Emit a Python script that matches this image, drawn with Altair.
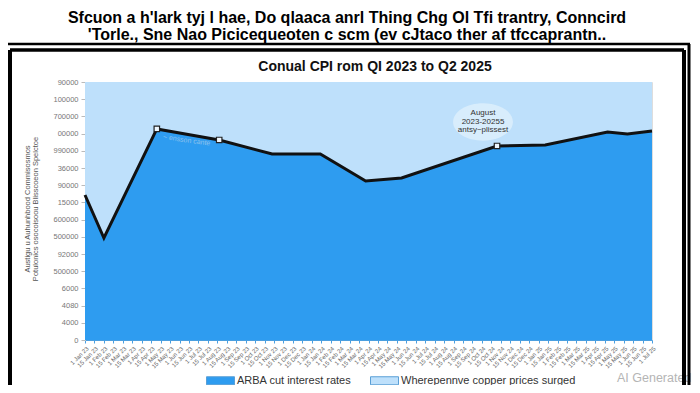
import altair as alt
import pandas as pd

# ---- data ----
x_pos = [0, 2.0, 7.6, 14.2, 19.8, 24.9, 29.7, 33.5, 43.6, 48.7, 55.3, 57.4, 60]
cpi = [84.3, 59.3, 122.7, 116.3, 108.1, 108.1, 92.4, 94.2, 112.8, 113.4, 120.9, 119.8, 121.5]
marker_idx = [2, 3, 8]
bg_x = [0, 60]
bg_top = [150, 150]

y_tick_labels = ["0", "4000", "4080", "6000", "500000", "92000", "500000", "600000",
                 "15000", "90000", "36000", "990000", "00000", "700000", "100000", "90000"]
months = ["Jan", "Feb", "Mar", "Apr", "May", "Jun", "Jul", "Aug", "Sep", "Oct", "Nov", "Dec"]
x_tick_labels = []
for yr in ["23", "24", "25"]:
    for m in months:
        x_tick_labels += [f"1 {m} {yr}", f"15 {m} {yr}"]
x_tick_labels = x_tick_labels[:61]

series = ["ARBA cut interest rates", "Wherepennve copper prices surged"]
colors = ["#2e9cf0", "#bee0fb"]

title_lines = ["Sfcuon a h'lark tyj l hae, Do qlaaca anrl Thing Chg Ol Tfi trantry, Conncird",
               "'Torle., Sne Nao Picicequeoten c scm (ev cJtaco ther af tfccaprantn.."]
inner_title = "Conual CPI rom QI 2023 to Q2 2025"
y_title_lines = ["Austigu u Auhunhbood Commisosmos", "Potulonics osocoisoou Blisscoeon Spelctoe"]
note_lines = ["August", "2023-20255", "antsy~plissest"]

FONT = "Liberation Sans"

line_df = pd.DataFrame({"x": x_pos, "v": cpi, "s": series[0]})
bg_df = pd.DataFrame({"x": bg_x, "v": bg_top, "s": series[1]})
mk_df = line_df.iloc[marker_idx].copy()
one = pd.DataFrame({"a": [0]})

xlab_expr = "[" + ",".join(f"'{t}'" for t in x_tick_labels) + "][round(datum.value)]"
ylab_expr = "[" + ",".join(f"'{t}'" for t in y_tick_labels) + "][round(datum.value/10)]"

xs = alt.Scale(domain=[0, 60], nice=False, zero=False)
ys = alt.Scale(domain=[0, 150], nice=False)
cs = alt.Scale(domain=series, range=colors)

x_axis = alt.Axis(values=list(range(61)), labelExpr=xlab_expr, labelAngle=-45,
                  labelFontSize=6, labelColor="#666", tickColor="#4a9fe0",
                  tickSize=3, domainColor="#4a9fe0", grid=False, labelPadding=2,
                  labelFont=FONT, labelOverlap=False, labelBound=False)
y_axis = alt.Axis(values=list(range(0, 151, 10)), labelExpr=ylab_expr,
                  labelFontSize=7.5, labelColor="#777", tickColor="#bbb",
                  tickSize=4, domainColor="#ccc", grid=False, labelFont=FONT,
                  labelPadding=3, labelOverlap=False, labelBound=False)
x_enc = alt.X("x:Q", scale=xs, title=None, axis=x_axis)
y_enc = alt.Y("v:Q", scale=ys, title=None, axis=y_axis)

legend = alt.Legend(orient="none", legendX=125, legendY=288, direction="horizontal",
                    title=None, labelFont=FONT, labelFontSize=11, labelColor="#333",
                    symbolType="M-1.4,-0.4H1.4V0.4H-1.4Z", symbolSize=400,
                    symbolStrokeColor="#5a9fd6", symbolStrokeWidth=1, columnPadding=16,
                    symbolOffset=0, labelOffset=6, labelLimit=320)
c_enc = alt.Color("s:N", scale=cs, legend=legend)

bg = alt.Chart(bg_df).mark_area(opacity=1).encode(x=x_enc, y=y_enc, color=c_enc)
dark = alt.Chart(line_df).mark_area(opacity=1).encode(x=x_enc, y=y_enc, color=c_enc)
line = alt.Chart(line_df).mark_line(color="#111", strokeWidth=3).encode(x=x_enc, y=y_enc)
markers = alt.Chart(mk_df).mark_point(shape="square", filled=True, fill="#eef6fd",
                                      stroke="#222", strokeWidth=1.2, size=30, opacity=1).encode(
    x=x_enc, y=y_enc)

ellipse = alt.Chart(one).mark_point(
    shape="M-1.6,0A1.6,1,0,1,0,1.6,0A1.6,1,0,1,0,-1.6,0Z", size=1400, filled=True,
    fill="#d9edfc", opacity=0.95, strokeWidth=0).encode(x=alt.value(398), y=alt.value(40))
note = alt.Chart(one).mark_text(text=note_lines, font=FONT, fontSize=8, color="#333",
                                lineHeight=8.5, baseline="middle", align="center").encode(
    x=alt.value(398), y=alt.value(31))
faint = alt.Chart(one).mark_text(text="~ ensson cante", font=FONT, fontSize=7,
                                 color="#8fc2ee", angle=8, align="left").encode(
    x=alt.value(78), y=alt.value(55))

title = alt.Chart(one).mark_text(text=title_lines, font=FONT, fontSize=16, fontWeight="bold",
                                 color="#000", lineHeight=17, baseline="middle",
                                 align="center").encode(x=alt.value(262), y=alt.value(-64))
sub = alt.Chart(one).mark_text(text=inner_title, font=FONT, fontSize=14, fontWeight="bold",
                               color="#111", baseline="middle", align="center").encode(
    x=alt.value(290), y=alt.value(-15))
ytitle = alt.Chart(one).mark_text(text=y_title_lines, font=FONT, fontSize=7.5, color="#555",
                                  angle=270, lineHeight=8, baseline="middle",
                                  align="center").encode(x=alt.value(-57), y=alt.value(127))
wm = alt.Chart(one).mark_text(text="AI Generated", font=FONT, fontSize=12.5, color="#b5b5b5",
                              align="left", baseline="middle").encode(
    x=alt.value(532), y=alt.value(296))


def rule(x1, x2, y1, y2, w):
    return alt.Chart(one).mark_rule(color="#000", strokeWidth=w).encode(
        x=alt.value(x1), x2=alt.value(x2), y=alt.value(y1), y2=alt.value(y2))


frames = [
    rule(-81, 605, -38, -38, 2.5),
    rule(604, 604, -38, 311, 3),
    rule(-75, 599, -32, -32, 3.5),
    rule(-75, -75, -32, 311, 4),
    rule(599, 599, -32, 311, 4),
]

chart = alt.layer(bg, dark, line, markers, ellipse, note, faint, title, sub, ytitle, wm,
                  *frames).properties(
    width=567, height=258, autosize=alt.AutoSizeParams(type="none"),
    padding={"left": 77, "top": 74, "right": 40, "bottom": 45},
).configure_view(stroke=None).configure(background="#ffffff")

chart.save("out.html", embed_options={"renderer": "svg", "actions": False})
